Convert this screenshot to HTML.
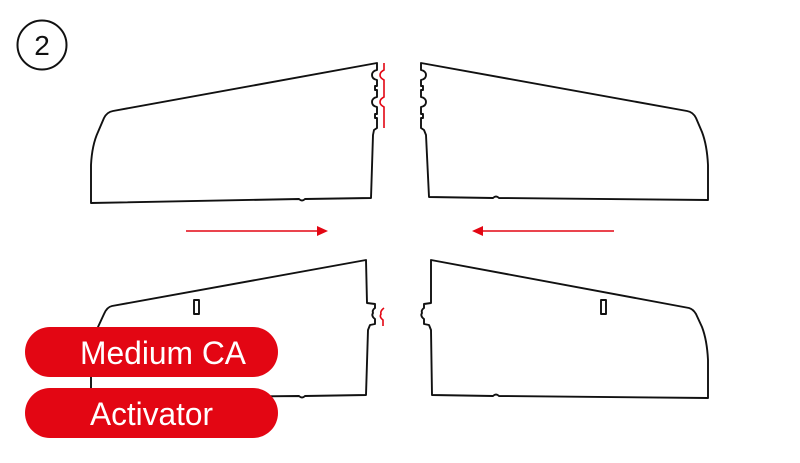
<!DOCTYPE html>
<html><head><style>
html,body{margin:0;padding:0;background:#fff;width:800px;height:463px;overflow:hidden}
svg{display:block}
</style></head><body>
<svg width="800" height="463" viewBox="0 0 800 463" xmlns="http://www.w3.org/2000/svg">
<g fill="none" stroke="#111" stroke-width="1.9" stroke-linejoin="round">
<circle cx="42" cy="45" r="24.5" stroke-width="2"/>
<path d="M91,203 L91,165 Q92,145 98,132 L104,118 Q107,112 113,111 L377,63 L377,70 Q372,71 372,75 Q372,79 377,80 L377,86 L375,86 L375,90 L377,90 L377,97 Q372,98 372,102 Q372,106 377,107 L377,114 L375,114 L375,118 L377,118 L377,128 L374,130 L373,135 L371,198 L305,199 Q302,202 299,199 L91,203 Z"/>
<path d="M421,63 L421,70 Q426,71 426,75 Q426,79 421,80 L421,86 L423,86 L423,90 L421,90 L421,97 Q426,98 426,102 Q426,106 421,107 L421,114 L423,114 L423,118 L421,118 L421,128 L424,130 L426,135 L429,197 L493,198 Q496,195 499,198 L708,200 L708,165 Q707,145 702,132 L696,118 Q693,112 687,111 L421,63 Z"/>
<path d="M112,306 L366,260 L367,303 L375,304 L375,308 Q372,310 373,313 Q371,316 375,319 L375,324 L370,325 L368,330 L366,395 L305,396 Q302,399 299,396 L91,398 L91,360 Q92,340 98,327 L104,314 Q107,307 112,306 Z"/>
<path d="M431,260 L431,303 L424,304 L424,308 Q421,310 422,313 Q420,316 424,319 L424,324 L429,325 L431,330 L432,395 L493,396 Q496,393 499,396 L708,398 L708,360 Q707,340 702,327 L696,314 Q693,309 689,308 L431,260 Z"/>
<rect x="194" y="300" width="5" height="14"/>
<rect x="601" y="300" width="5" height="14"/>
</g>
<g fill="none" stroke="#e30613" stroke-width="1.6">
<path d="M384,63 L384,70 Q380,72 380,75 Q380,78 384,80 L384,97 Q380,99 380,102 Q380,105 384,107 L384,128"/>
<path d="M384,308 Q380,311 381,314 Q379,317 383,320 L383,326"/>
<line x1="186" y1="231" x2="318" y2="231"/>
<line x1="482" y1="231" x2="614" y2="231"/>
</g>
<polygon points="328,231 317,226 317,236" fill="#e30613"/>
<polygon points="472,231 483,226 483,236" fill="#e30613"/>
<text x="42" y="55" text-anchor="middle" font-family="Liberation Sans, sans-serif" font-size="28" fill="#111">2</text>
<rect x="25" y="327" width="253" height="50" rx="25" fill="#e30613"/>
<rect x="25" y="388" width="253" height="50" rx="25" fill="#e30613"/>
<text x="80" y="364" textLength="166" lengthAdjust="spacingAndGlyphs" font-family="Liberation Sans, sans-serif" font-size="32" fill="#fff">Medium CA</text>
<text x="90" y="425" textLength="123" lengthAdjust="spacingAndGlyphs" font-family="Liberation Sans, sans-serif" font-size="32" fill="#fff">Activator</text>
</svg>
</body></html>
